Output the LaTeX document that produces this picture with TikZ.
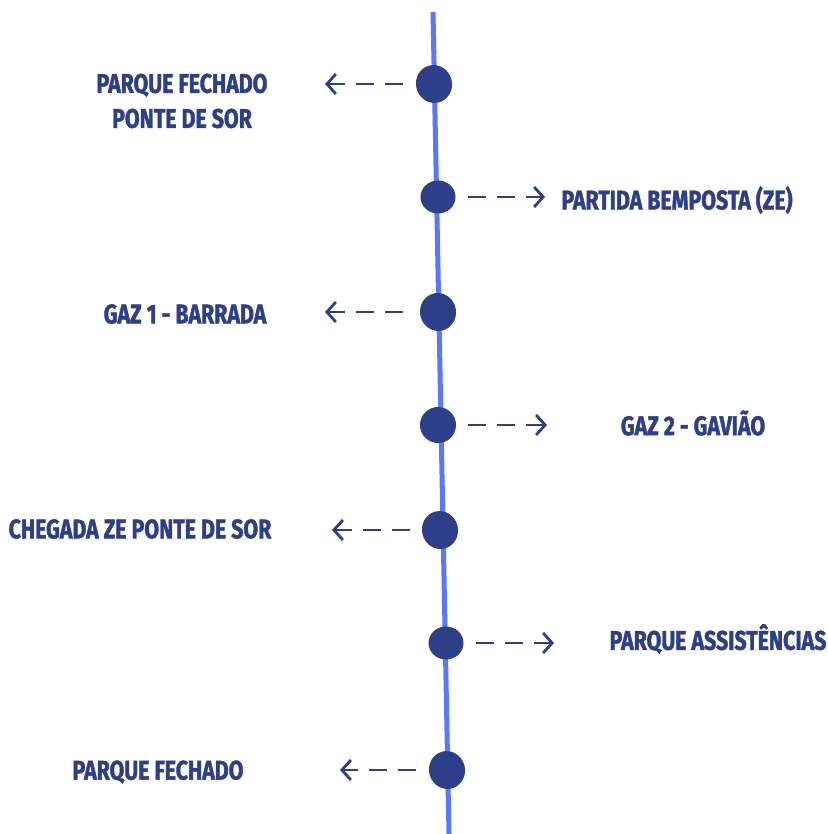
\documentclass[tikz,border=0pt]{standalone}
\usepackage{fontspec}
\newfontfamily\hand{Fira Sans}[FakeStretch=0.79, FakeBold=1.5]
\usetikzlibrary{shapes.geometric,arrows.meta}
\definecolor{navy}{HTML}{2E3F8A}
\definecolor{rail}{HTML}{5A78FF}
\tikzset{
  dot/.style={ellipse, fill=navy, draw=none, minimum width=36pt, minimum height=38pt, inner sep=0pt},
  smalldot/.style={dot, minimum width=35pt, minimum height=33pt},
  lbl/.style={text=navy, font=\hand\bfseries\fontsize{27}{35}\selectfont, align=center, inner sep=0pt},
  arr/.style={draw=navy, line width=2.8pt, dash pattern=on 18pt off 11pt, -{Straight Barb[length=9pt,width=20pt,line width=2.8pt]}}
}
\begin{document}
\begin{tikzpicture}[x=1pt,y=-1pt]
\useasboundingbox (0,0) rectangle (827,834);
\coordinate (top) at (433,12);
\coordinate (bot) at (449,834);
\draw[rail, line width=5pt] (top) -- (bot);
% dots
\node[dot, rotate=15] (d1) at (434,84) {};
\node[smalldot] (d2) at (438,197) {};
\node[dot, rotate=10] (d3) at (438,312) {};
\node[dot, minimum height=36pt, rotate=10] (d4) at (438,425) {};
\node[dot, rotate=15] (d5) at (440,530) {};
\node[smalldot] (d6) at (446,643) {};
\node[dot, rotate=15] (d7) at (447,770) {};
% labels
\node[lbl] (t1) at (182,101) {PARQUE FECHADO\\PONTE DE SOR};
\node[lbl] (t2) at (677,200) {PARTIDA BEMPOSTA (ZE)};
\node[lbl] (t3) at (185,314) {GAZ 1 - BARRADA};
\node[lbl] (t4) at (693,423) {GAZ 2 - GAVIÃO};
\node[lbl] (t5) at (140,529) {CHEGADA ZE PONTE DE SOR};
\node[lbl] (t6) at (718,639) {PARQUE ASSISTÊNCIAS};
\node[lbl] (t7) at (158,772) {PARQUE FECHADO};
% arrow ends
\coordinate (e1) at (325,84);
\coordinate (e2) at (545,197);
\coordinate (e3) at (325,312);
\coordinate (e4) at (547,425);
\coordinate (e5) at (332,530);
\coordinate (e6) at (554,643);
\coordinate (e7) at (340,770);
\draw[arr] (403,84) -- (e1);
\draw[arr] (468,197) -- (e2);
\draw[arr] (403,312) -- (e3);
\draw[arr] (468,425) -- (e4);
\draw[arr] (410,530) -- (e5);
\draw[arr] (476,643) -- (e6);
\draw[arr] (416,770) -- (e7);
\end{tikzpicture}
\end{document}
